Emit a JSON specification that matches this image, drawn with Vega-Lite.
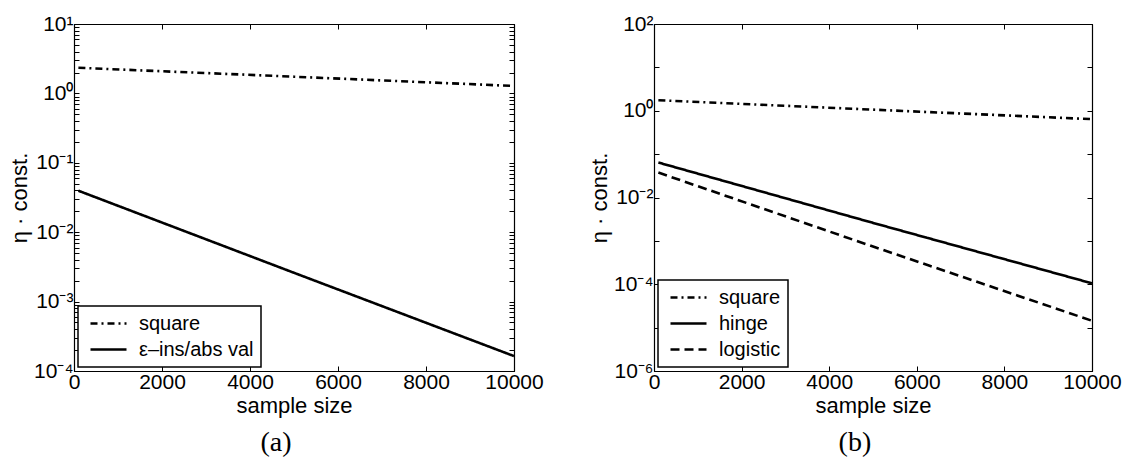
{
  "$schema": "https://vega.github.io/schema/vega-lite/v6.json",
  "background": "white",
  "padding": {"left": 8, "top": 12, "right": 5, "bottom": 0},
  "datasets": {
    "a": [
      {"loss": "square", "n": 100, "eta": 2.34},
      {"loss": "square", "n": 5000, "eta": 1.74},
      {"loss": "square", "n": 10000, "eta": 1.28},
      {"loss": "ε–ins/abs val", "n": 100, "eta": 0.0396},
      {"loss": "ε–ins/abs val", "n": 5000, "eta": 0.0026},
      {"loss": "ε–ins/abs val", "n": 10000, "eta": 0.000164}
    ],
    "b": [
      {"loss": "square", "n": 100, "eta": 1.75},
      {"loss": "square", "n": 5000, "eta": 1.06},
      {"loss": "square", "n": 10000, "eta": 0.64},
      {"loss": "hinge", "n": 100, "eta": 0.064},
      {"loss": "hinge", "n": 5000, "eta": 0.0026},
      {"loss": "hinge", "n": 10000, "eta": 0.000105},
      {"loss": "logistic", "n": 100, "eta": 0.0375},
      {"loss": "logistic", "n": 5000, "eta": 0.00074},
      {"loss": "logistic", "n": 10000, "eta": 0.0000144}
    ]
  },
  "hconcat": [
    {
      "width": 440,
      "height": 347,
      "data": {"name": "a"},
      "title": {"text": "(a)", "orient": "bottom", "font": "Liberation Serif", "fontSize": 28, "fontWeight": "normal", "frame": "bounds", "anchor": "middle", "offset": 13, "color": "black"},
      "layer": [
        {
          "mark": {"type": "line", "strokeWidth": 2.6, "color": "black", "clip": true},
          "encoding": {
            "x": {"field": "n", "type": "quantitative", "scale": {"domain": [0, 10000], "nice": false}, "axis": {"values": [0, 2000, 4000, 6000, 8000, 10000], "format": "d", "title": "sample size", "labelPadding": 5, "titlePadding": 3}},
            "y": {"field": "eta", "type": "quantitative", "scale": {"type": "log", "domain": [0.0001, 10], "nice": false},
              "axis": {"title": "η · const.",
                "values": [0.0001,0.0002,0.0003,0.0004,0.0005,0.0006,0.0007,0.0008,0.0009,0.001,0.002,0.003,0.004,0.005,0.006,0.007,0.008,0.009,0.01,0.02,0.03,0.04,0.05,0.06,0.07,0.08,0.09,0.1,0.2,0.3,0.4,0.5,0.6,0.7,0.8,0.9,1,2,3,4,5,6,7,8,9,10],
                "labelExpr": "abs(log(datum.value)/LN10 - round(log(datum.value)/LN10)) < 0.01 ? '10' + ['⁻⁶','⁻⁵','⁻⁴','⁻³','⁻²','⁻¹','⁰','¹','²'][round(log(datum.value)/LN10)+6] : ''"}},
            "strokeDash": {"field": "loss", "type": "nominal", "scale": {"domain": ["square", "ε–ins/abs val"], "range": [[7, 4, 2, 4], [1, 0]]},
              "legend": {"orient": "bottom-left", "offset": 4, "title": null}}
          }
        },
        {
          "mark": {"type": "line", "opacity": 0},
          "encoding": {
            "x": {"field": "n", "type": "quantitative", "axis": {"orient": "top", "labels": false, "title": null, "values": [0, 2000, 4000, 6000, 8000, 10000]}},
            "y": {"field": "eta", "type": "quantitative", "axis": {"orient": "right", "labels": false, "title": null,
                "values": [0.0001,0.0002,0.0003,0.0004,0.0005,0.0006,0.0007,0.0008,0.0009,0.001,0.002,0.003,0.004,0.005,0.006,0.007,0.008,0.009,0.01,0.02,0.03,0.04,0.05,0.06,0.07,0.08,0.09,0.1,0.2,0.3,0.4,0.5,0.6,0.7,0.8,0.9,1,2,3,4,5,6,7,8,9,10]}},
            "detail": {"field": "loss"}
          }
        }
      ],
      "resolve": {"axis": {"x": "independent", "y": "independent"}}
    },
    {
      "width": 438,
      "height": 347,
      "data": {"name": "b"},
      "title": {"text": "(b)", "orient": "bottom", "font": "Liberation Serif", "fontSize": 28, "fontWeight": "normal", "frame": "bounds", "anchor": "middle", "offset": 13, "color": "black"},
      "layer": [
        {
          "mark": {"type": "line", "strokeWidth": 2.6, "color": "black", "clip": true},
          "encoding": {
            "x": {"field": "n", "type": "quantitative", "scale": {"domain": [0, 10000], "nice": false}, "axis": {"values": [0, 2000, 4000, 6000, 8000, 10000], "format": "d", "title": "sample size", "labelPadding": 5, "titlePadding": 3}},
            "y": {"field": "eta", "type": "quantitative", "scale": {"type": "log", "domain": [0.000001, 100], "nice": false},
              "axis": {"title": "η · const.",
                "values": [0.000001,0.00001,0.0001,0.001,0.01,0.1,1,10,100],
                "labelExpr": "round(log(datum.value)/LN10) % 2 == 0 ? '10' + ['⁻⁶','⁻⁵','⁻⁴','⁻³','⁻²','⁻¹','⁰','¹','²'][round(log(datum.value)/LN10)+6] : ''"}},
            "strokeDash": {"field": "loss", "type": "nominal", "scale": {"domain": ["square", "hinge", "logistic"], "range": [[7, 4, 2, 4], [1, 0], [9, 5]]},
              "legend": {"orient": "bottom-left", "offset": 4, "title": null}}
          }
        },
        {
          "mark": {"type": "line", "opacity": 0},
          "encoding": {
            "x": {"field": "n", "type": "quantitative", "axis": {"orient": "top", "labels": false, "title": null, "values": [0, 2000, 4000, 6000, 8000, 10000]}},
            "y": {"field": "eta", "type": "quantitative", "axis": {"orient": "right", "labels": false, "title": null,
                "values": [0.000001,0.00001,0.0001,0.001,0.01,0.1,1,10,100]}},
            "detail": {"field": "loss"}
          }
        }
      ],
      "resolve": {"axis": {"x": "independent", "y": "independent"}}
    }
  ],
  "spacing": 44,
  "resolve": {"scale": {"strokeDash": "independent"}, "legend": {"strokeDash": "independent"}},
  "config": {
    "font": "Liberation Sans",
    "view": {"stroke": "black", "strokeWidth": 1},
    "axis": {
      "domainColor": "black", "domainWidth": 1.2, "tickColor": "black", "tickWidth": 1, "tickSize": -5,
      "labelColor": "black", "titleColor": "black", "labelFont": "Liberation Sans", "labelFontSize": 21,
      "titleFont": "Liberation Sans", "titleFontSize": 22, "titleFontWeight": "normal", "grid": false,
      "labelPadding": 6, "titlePadding": 2, "labelOverlap": false, "labelFlush": false
    },
    "legend": {
      "strokeColor": "black", "strokeWidth": 1.5, "fillColor": "white", "padding": 7,
      "symbolType": "M-2,0H2", "symbolSize": 324, "symbolStrokeWidth": 2.5, "symbolStrokeColor": "black",
      "symbolOffset": 13,
      "labelFont": "Liberation Sans", "labelFontSize": 20, "labelColor": "black", "labelOffset": 20, "rowPadding": 5,
      "labelLimit": 300
    }
  }
}
